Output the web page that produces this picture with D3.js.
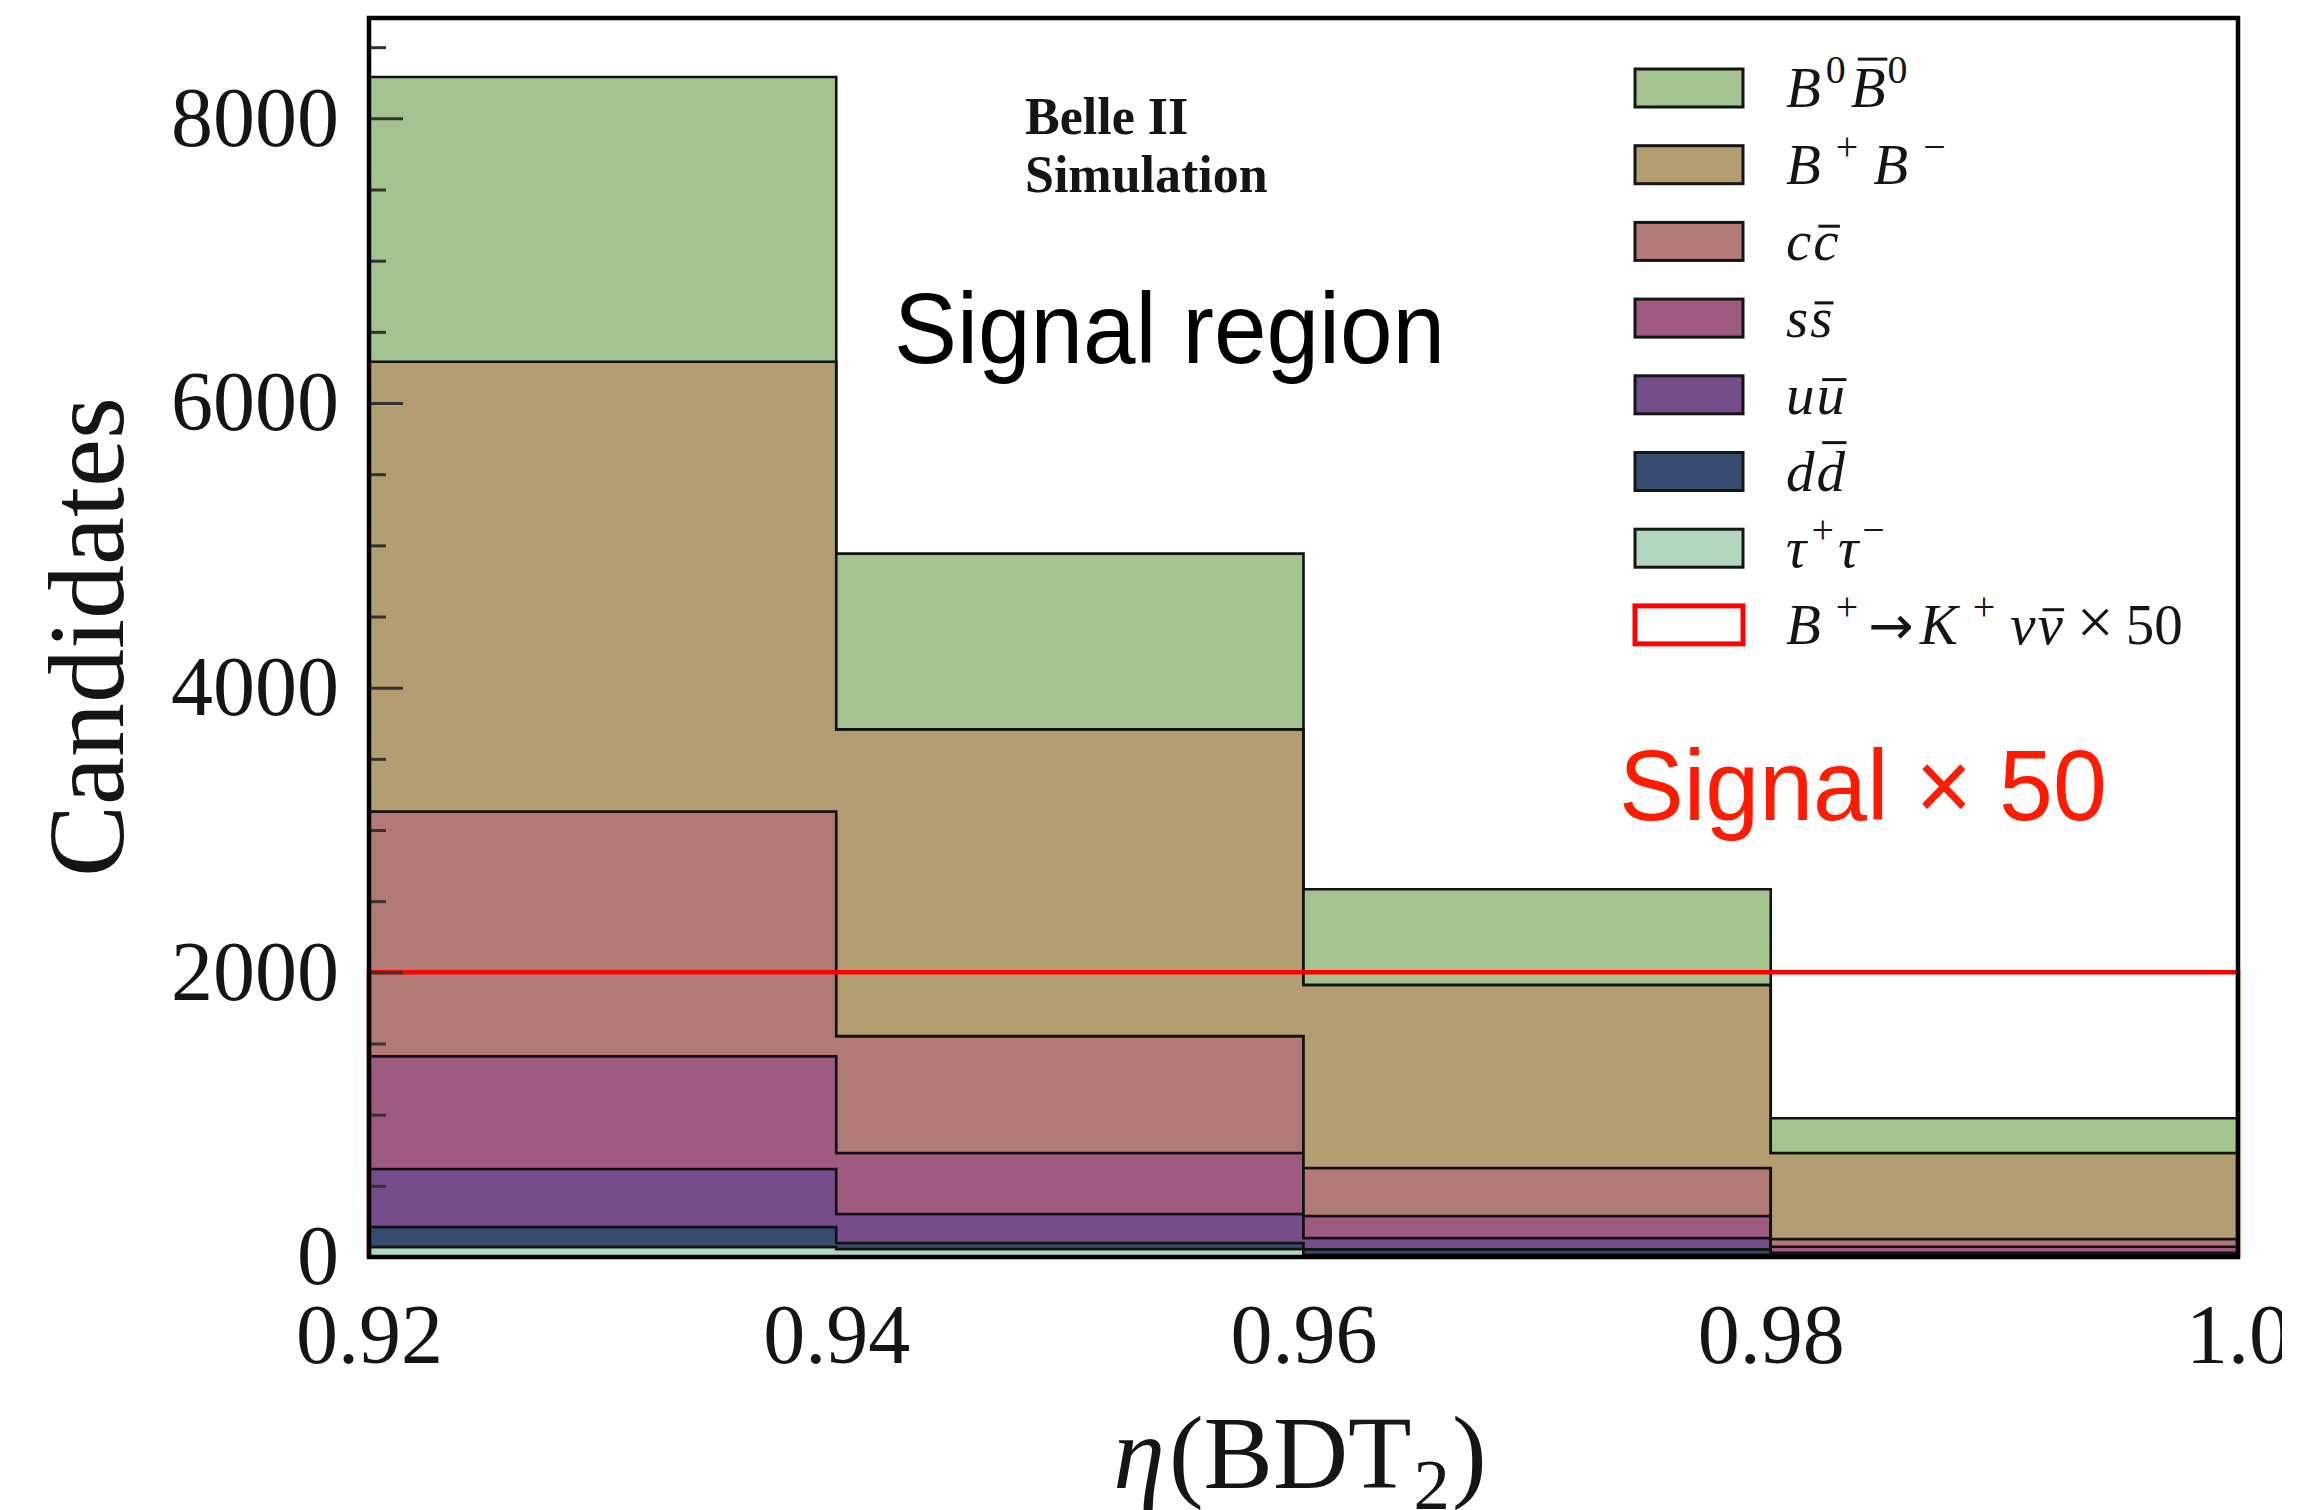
<!DOCTYPE html>
<html>
<head>
<meta charset="utf-8">
<script src="https://cdn.jsdelivr.net/npm/d3@7"></script>
<style>
  body { margin: 0; background: #fff; }
  svg { display: block; }
  .serif { font-family: "Liberation Serif", "Times New Roman", serif; fill: #151515; }
  .sans { font-family: "Liberation Sans", Arial, sans-serif; }
</style>
</head>
<body>
<svg id="graph"></svg>
<script>
//----------data----------
var edges = [0.92, 0.94, 0.96, 0.98, 1.0];
var xTickLabels = ["0.92", "0.94", "0.96", "0.98", "1.0"];
var yMajorTicks = [0, 2000, 4000, 6000, 8000];

// stacked from the bottom up
var tauTau      = [70, 56, 15, 5];
var dDbar       = [141, 42, 39, 10];
var uUbar       = [407, 204, 80, 15];
var sSbar       = [792, 429, 154, 42];
var cCbar       = [1720, 821, 337, 54];
var bPlusBMinus = [3160, 2155, 1287, 605];
var b0B0bar     = [2000, 1235, 672, 244];
var signalX50   = [2000, 2000, 2000, 2000];

var sampleKeys = ["tautau", "ddbar", "uubar", "ssbar", "ccbar", "bpbm", "b0b0"];
var sampleValues = [tauTau, dDbar, uUbar, sSbar, cCbar, bPlusBMinus, b0B0bar];
var sampleColors = ["#b1d7bf", "#384b70", "#754d8a", "#9f5a80", "#b17a74", "#b39e72", "#a3c490"];

// legend order, top to bottom
var legendKeys = ["b0b0", "bpbm", "ccbar", "ssbar", "uubar", "ddbar", "tautau", "signal"];

//----------layout----------
var W = 2302, H = 1510;
var plot = {left: 369, right: 2238, top: 18, bottom: 1257};

var svg = d3.select("#graph").attr("width", W).attr("height", H);
svg.append("rect").attr("width", W).attr("height", H).attr("fill", "#fff");

var xScale = d3.scaleLinear().domain([0.92, 1.0]).range([plot.left, plot.right]);
var yScale = d3.scaleLinear().domain([0, 8705]).range([plot.bottom, plot.top]);

//----------stacked histogram----------
var rows = edges.slice(0, -1).map(function (e, i) {
  var r = {x0: e};
  sampleKeys.forEach(function (k, j) { r[k] = sampleValues[j][i]; });
  return r;
});
var series = d3.stack().keys(sampleKeys)(rows);

var area = d3.area()
  .x(function (d) { return xScale(d.x); })
  .y0(function (d) { return yScale(d.lo); })
  .y1(function (d) { return yScale(d.hi); })
  .curve(d3.curveStepAfter);

var stackG = svg.append("g");
series.forEach(function (s, j) {
  var pts = s.map(function (d, i) { return {x: edges[i], lo: d[0], hi: d[1]}; });
  var last = s[s.length - 1];
  pts.push({x: edges[edges.length - 1], lo: last[0], hi: last[1]});
  stackG.append("path")
    .attr("d", area(pts))
    .attr("fill", sampleColors[j])
    .attr("stroke", "#121212")
    .attr("stroke-width", 2.6)
    .attr("stroke-linejoin", "miter");
});

//----------signal x 50 (step outline)----------
var sigPts = [{x: edges[0], y: 0}];
signalX50.forEach(function (v, i) { sigPts.push({x: edges[i], y: v}); });
sigPts.push({x: edges[edges.length - 1], y: signalX50[signalX50.length - 1]});
sigPts.push({x: edges[edges.length - 1], y: 0});
svg.append("path")
  .attr("d", d3.line()
    .x(function (d) { return xScale(d.x); })
    .y(function (d) { return yScale(d.y); })
    .curve(d3.curveStepAfter)(sigPts))
  .attr("fill", "none")
  .attr("stroke", "#ff0000")
  .attr("stroke-width", 4.5);

//----------axes----------
var minorTicks = d3.range(500, 8705, 500).filter(function (v) { return v % 2000 !== 0; });

var yMinor = svg.append("g").attr("transform", "translate(" + plot.left + ",0)")
  .call(d3.axisLeft(yScale).tickValues(minorTicks).tickSizeInner(-17).tickSizeOuter(0).tickFormat(""));
var yMajor = svg.append("g").attr("class", "serif").attr("transform", "translate(" + plot.left + ",0)")
  .call(d3.axisLeft(yScale).tickValues(yMajorTicks).tickSizeInner(-34).tickSizeOuter(0).tickPadding(30).tickFormat(d3.format("d")));
[yMinor, yMajor].forEach(function (g) {
  g.select(".domain").remove();
  g.selectAll(".tick line").attr("stroke", "#333").attr("stroke-width", 3);
});
yMajor.selectAll("text")
  .attr("class", "serif")
  .style("font-size", "84px")
  .attr("fill", "#151515");

svg.append("clipPath").attr("id", "clipX")
  .append("rect").attr("x", 0).attr("y", 0).attr("width", 2282).attr("height", H);

var xAxisG = svg.append("g").attr("clip-path", "url(#clipX)")
  .attr("transform", "translate(0," + plot.bottom + ")")
  .call(d3.axisBottom(xScale).tickValues(edges).tickSize(0)
    .tickFormat(function (d, i) { return xTickLabels[i]; }));
xAxisG.select(".domain").remove();
xAxisG.selectAll("text")
  .attr("class", "serif")
  .attr("y", 106).attr("dy", null)
  .style("font-size", "84px")
  .attr("fill", "#151515");

// frame
svg.append("rect")
  .attr("x", plot.left).attr("y", plot.top)
  .attr("width", plot.right - plot.left).attr("height", plot.bottom - plot.top)
  .attr("fill", "none").attr("stroke", "#000").attr("stroke-width", 4.5);

//----------math-ish text helper----------
// piece: t text, i italic, sup/sub, bar ("cap"|"low"|"asc"), pre gap before, s size factor, f font
var drawPieces = function (g, x0, y0, pieces, size) {
  var x = x0;
  pieces.forEach(function (p) {
    x += p.pre || 0;
    var small = p.sup || p.sub;
    var fs = size * (p.s || (small ? 0.7 : 1));
    var dy = p.sup ? -size * 0.42 : (p.sub ? size * 0.2 : 0);
    var t = g.append("text").attr("class", "serif")
      .attr("x", x).attr("y", y0 + dy)
      .style("font-size", fs + "px")
      .style("font-style", p.i ? "italic" : "normal")
      .text(p.t);
    if (p.f) t.style("font-family", p.f);
    var w = t.node().getComputedTextLength();
    if (p.bar) {
      var by = y0 - (p.bar === "low" ? size * 0.6 : size * 0.84);
      g.append("line")
        .attr("x1", x + w * 0.2).attr("x2", x + w * 1.05)
        .attr("y1", by).attr("y2", by)
        .attr("stroke", "#151515").attr("stroke-width", 3);
    }
    x += w;
  });
  return x - x0;
};

//----------legend----------
var legendPieces = {
  b0b0:   [{t: "B", i: 1}, {t: "0", sup: 1, pre: 5}, {t: "B", i: 1, bar: "cap", pre: 5}, {t: "0", sup: 1, pre: 2}],
  bpbm:   [{t: "B", i: 1}, {t: "+", sup: 1, pre: 15}, {t: "B", i: 1, pre: 15}, {t: "\u2212", sup: 1, pre: 15}],
  ccbar:  [{t: "c", i: 1}, {t: "c", i: 1, bar: "low", pre: 2}],
  ssbar:  [{t: "s", i: 1}, {t: "s", i: 1, bar: "low", pre: 2}],
  uubar:  [{t: "u", i: 1}, {t: "u", i: 1, bar: "low", pre: 2}],
  ddbar:  [{t: "d", i: 1}, {t: "d", i: 1, bar: "asc", pre: 2}],
  tautau: [{t: "\u03c4", i: 1}, {t: "+", sup: 1, pre: 5}, {t: "\u03c4", i: 1, pre: 4}, {t: "\u2212", sup: 1, pre: 4}],
  signal: [{t: "B", i: 1}, {t: "+", sup: 1, pre: 15}, {t: "\u2192", pre: 10, s: 0.95, f: "DejaVu Sans"}, {t: "K", i: 1, pre: 6},
           {t: "+", sup: 1, pre: 15}, {t: "\u03bd", i: 1, pre: 15}, {t: "\u03bd", i: 1, bar: "low", pre: 2},
           {t: "\u00d7", pre: 14, s: 1.15}, {t: "50", pre: 12, s: 1.0}]
};

var legendG = svg.append("g");
legendKeys.forEach(function (k, i) {
  var cy = 88 + i * 76.7;
  var isSig = k === "signal";
  legendG.append("rect")
    .attr("x", 1635).attr("y", cy - 19)
    .attr("width", 108).attr("height", 38)
    .attr("fill", isSig ? "#fff" : sampleColors[sampleKeys.indexOf(k)])
    .attr("stroke", isSig ? "#ff0000" : "#151515")
    .attr("stroke-width", isSig ? 5 : 3);
  drawPieces(legendG, 1786, cy + 19, legendPieces[k], 57);
});

//----------annotations----------
svg.append("text").attr("class", "serif")
  .attr("x", 1025).attr("y", 134)
  .style("font-size", "52px").style("font-weight", "bold")
  .text("Belle II");
svg.append("text").attr("class", "serif")
  .attr("x", 1025).attr("y", 192)
  .style("font-size", "52px").style("font-weight", "bold")
  .text("Simulation");

svg.append("text").attr("class", "sans")
  .attr("x", 894).attr("y", 363)
  .attr("textLength", 551).attr("lengthAdjust", "spacingAndGlyphs")
  .style("font-size", "100px").attr("fill", "#000")
  .text("Signal region");

svg.append("text").attr("class", "sans")
  .attr("x", 1619).attr("y", 820)
  .attr("textLength", 488).attr("lengthAdjust", "spacingAndGlyphs")
  .style("font-size", "100px").attr("fill", "#ff1a00")
  .text("Signal \u00d7 50");

//----------axis titles----------
svg.append("text").attr("class", "serif")
  .attr("transform", "translate(123,637) rotate(-90)")
  .attr("text-anchor", "middle")
  .style("font-size", "108px")
  .text("Candidates");

var xTitle = svg.append("g");
var xw = drawPieces(xTitle, 0, 1488, [
  {t: "\u03b7", i: 1}, {t: "(BDT", pre: 4}, {t: "2", sub: 1, pre: 2}, {t: ")", pre: 2}
], 104);
xTitle.attr("transform", "translate(" + (1300 - xw / 2) + ",0)");
</script>
</body>
</html>
